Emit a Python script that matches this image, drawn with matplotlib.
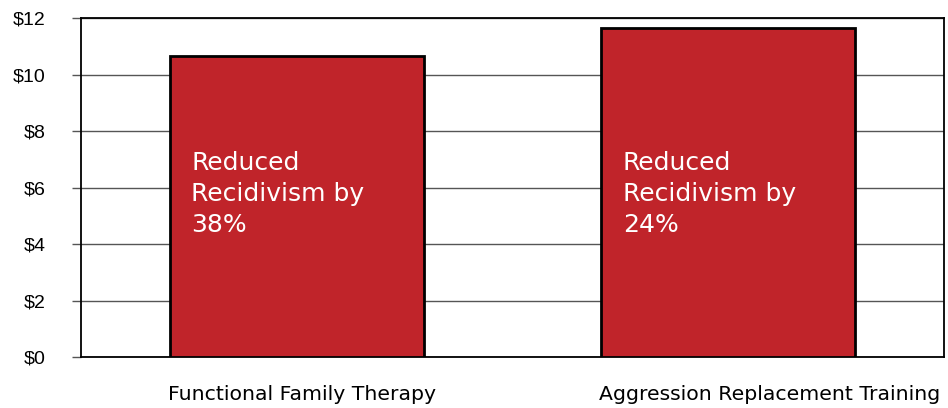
import matplotlib.pyplot as plt

programs = ['Functional Family Therapy', 'Aggression Replacement Training']
benefit = [10.65, 11.63]                       # dollars returned per dollar
notes = ['Reduced\nRecidivism by\n38%', 'Reduced\nRecidivism by\n24%']
yticks = [0, 2, 4, 6, 8, 10, 12]

plt.rcParams['font.family'] = ['Liberation Sans', 'DejaVu Sans']

fig = plt.figure(figsize=(9.48, 4.08), dpi=100)
ax = fig.add_axes([0.0854, 0.1238, 0.9104, 0.8321])

x = range(len(programs))
w = 0.588
ax.bar(x, benefit, width=w, color='#c0242a', edgecolor='black', linewidth=2, zorder=3)

ax.set_xlim(-0.5, 1.5)
ax.set_ylim(0, 12)
ax.set_yticks(yticks)
ax.set_yticklabels(['$%d' % v for v in yticks], fontsize=14)
ax.tick_params(axis='y', length=6.5, width=1, color='#555555', pad=19)
ax.set_xticks([])
ax.grid(axis='y', color='#555555', linewidth=1, zorder=0)
for s in ax.spines.values():
    s.set_linewidth(1.3)
    s.set_color('black')

for i, (name, note) in enumerate(zip(programs, notes)):
    left = i - w / 2
    ax.text(left + 0.05, 7.3, note, color='white', fontsize=18, family='DejaVu Sans',
            ha='left', va='top', linespacing=1.38, zorder=4)
    ax.text(left - 0.005, -0.98, name, fontsize=14.7, family='DejaVu Sans',
            ha='left', va='top')

fig.savefig('out.png', dpi=100)
